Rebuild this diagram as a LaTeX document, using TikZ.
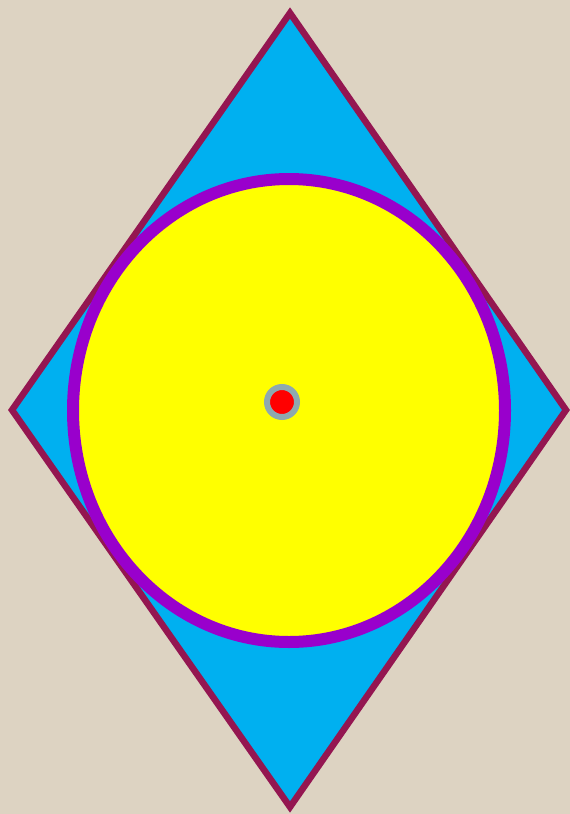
\documentclass[tikz,border=0pt]{standalone}
\definecolor{bgbeige}{HTML}{DDD3C2}
\definecolor{rhombfill}{HTML}{00B0F0}
\definecolor{rhombline}{HTML}{941651}
\definecolor{circline}{HTML}{9900CC}
\definecolor{circfill}{HTML}{FFFF00}
\definecolor{dotfill}{HTML}{FF0000}
\definecolor{dotring}{HTML}{8EA9AE}
\begin{document}
\begin{tikzpicture}[x=1pt,y=-1pt,
  rhomb/.style={fill=rhombfill,draw=rhombline,line width=6.5pt,line join=miter},
  bigell/.style={fill=circfill,draw=circline,line width=12pt},
  centerdot/.style={fill=dotfill,draw=dotring,line width=6pt}]
\fill[bgbeige] (0,0) rectangle (570,814);
\useasboundingbox (0,0) rectangle (570,814);
\coordinate (T) at (290,13);
\coordinate (R) at (566,410);
\coordinate (B) at (290,807);
\coordinate (L) at (12,410);
\draw[rhomb] (T) -- (R) -- (B) -- (L) -- cycle;
\draw[bigell] (289,410.5) ellipse [x radius=216, y radius=231.5];
\draw[centerdot] (282,402) circle [radius=15];
\end{tikzpicture}
\end{document}
